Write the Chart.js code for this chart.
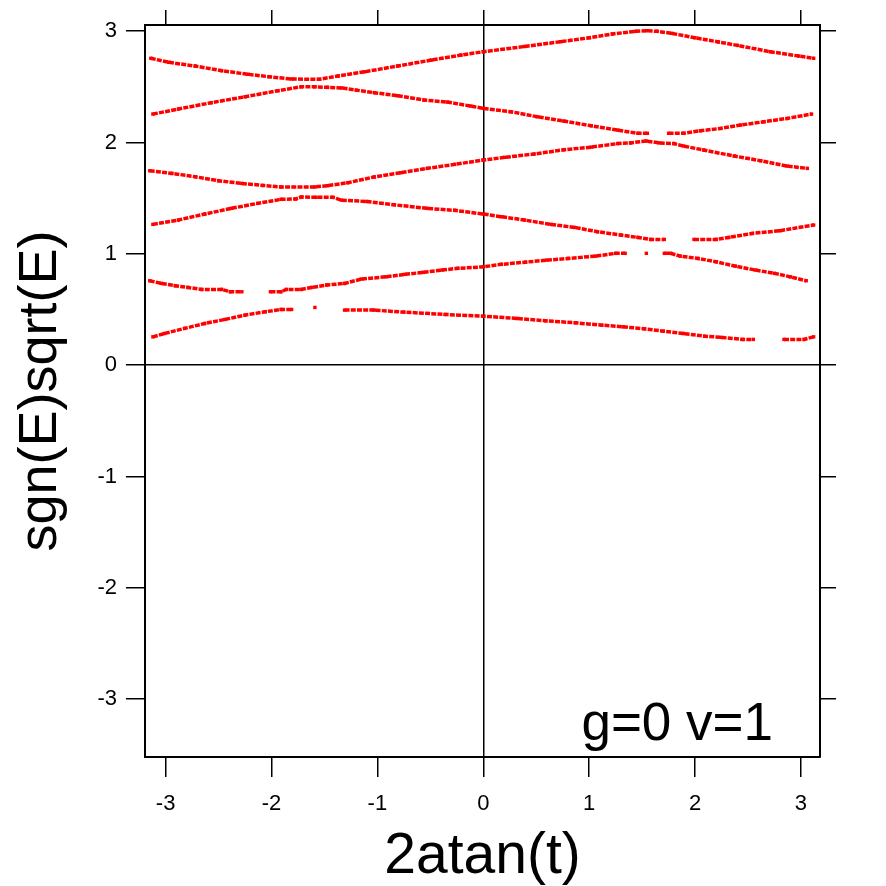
<!DOCTYPE html>
<html>
<head>
<meta charset="utf-8">
<title>sgn(E)sqrt(E) vs 2atan(t)</title>
<script src="https://cdn.jsdelivr.net/npm/chart.js@4.4.0/dist/chart.umd.min.js"></script>
<style>
  html, body { margin: 0; padding: 0; background: #fff; }
  #wrap { width: 886px; height: 886px; }
</style>
</head>
<body>
<div id="wrap"><canvas id="chart" width="886" height="886"></canvas></div>
<script>
// Energy bands, [x, y]; null y = gap where no points were found
const bandA = [[-3.14,2.756],[-2.97,2.72],[-2.72,2.686],[-2.47,2.645],[-2.22,2.612],[-2.02,2.59],[-1.81,2.57],
    [-1.55,2.567],[-1.37,2.597],[-1.12,2.635],[-0.81,2.686],[-0.49,2.74],[-0.21,2.785],[0,2.815],[0.39,2.862],
    [0.73,2.905],[1.0,2.94],[1.22,2.975],[1.44,2.998],[1.54,3.004],[1.64,2.998],[1.78,2.98],[2.0,2.94],
    [2.22,2.903],[2.4,2.872],[2.71,2.815],[2.98,2.776],[3.12,2.756]];
const bandB = [[-3.12,2.255],[-2.88,2.30],[-2.57,2.357],[-2.25,2.41],[-1.94,2.465],[-1.72,2.50],[-1.59,2.50],
    [-1.47,2.495],[-1.34,2.49],[-1.2,2.47],[-1.03,2.447],[-0.81,2.42],[-0.56,2.381],[-0.34,2.363],[-0.12,2.327],
    [0,2.306],[0.26,2.276],[0.51,2.231],[0.76,2.192],[1.02,2.15],[1.27,2.111],[1.46,2.082],[1.55,2.082],
    [1.65,null],[1.75,2.082],[1.89,2.082],[2.05,2.105],[2.24,2.126],[2.43,2.156],[2.65,2.186],[2.87,2.216],
    [3.10,2.255]];
const bandC = [[-3.15,1.746],[-2.94,1.722],[-2.72,1.692],[-2.50,1.656],[-2.28,1.632],[-2.08,1.614],[-1.91,1.60],
    [-1.59,1.60],[-1.47,1.612],[-1.28,1.638],[-1.03,1.69],[-0.78,1.728],[-0.53,1.767],[-0.27,1.803],[0,1.842],
    [0.2,1.866],[0.48,1.896],[0.76,1.934],[1.02,1.958],[1.27,1.99],[1.39,1.996],[1.54,2.013],[1.66,1.996],
    [1.80,1.99],[1.89,1.968],[2.08,1.932],[2.37,1.878],[2.62,1.836],[2.87,1.788],[3.06,1.767]];
const bandD = [[-3.12,1.264],[-2.88,1.303],[-2.63,1.357],[-2.38,1.408],[-2.13,1.453],[-1.91,1.489],[-1.77,1.492],
    [-1.72,1.51],[-1.58,1.507],[-1.42,1.507],[-1.34,1.482],[-1.1,1.47],[-0.84,1.44],[-0.53,1.408],[-0.27,1.39],
    [0,1.357],[0.17,1.333],[0.39,1.303],[0.64,1.264],[0.86,1.237],[1.08,1.198],[1.30,1.168],[1.46,1.147],
    [1.58,1.129],[1.71,1.129],[1.85,null],[1.99,1.129],[2.2,1.129],[2.32,1.147],[2.54,1.183],[2.8,1.207],
    [3.12,1.258]];
const bandE = [[-3.15,0.758],[-3.04,0.734],[-2.91,0.713],[-2.79,0.698],[-2.66,0.68],[-2.47,0.68],[-2.39,0.659],
    [-2.28,0.659],[-2.15,null],[-2.01,0.659],[-1.91,0.659],[-1.86,0.68],[-1.72,0.68],[-1.62,0.698],[-1.48,0.719],
    [-1.31,0.734],[-1.15,0.773],[-0.92,0.793],[-0.74,0.815],[-0.57,0.833],[-0.39,0.854],[-0.24,0.869],[0,0.883],
    [0.17,0.905],[0.4,0.925],[0.6,0.943],[0.8,0.958],[1.06,0.979],[1.25,1.004],[1.34,1.004],[1.44,null],
    [1.54,1.004],[1.62,null],[1.71,1.004],[1.77,1.004],[1.86,0.979],[2.03,0.958],[2.2,0.928],[2.38,0.889],
    [2.57,0.854],[2.75,0.824],[2.9,0.793],[3.05,0.758]];
const bandF = [[-3.12,0.254],[-3.01,0.284],[-2.82,0.33],[-2.63,0.374],[-2.44,0.41],[-2.25,0.449],[-2.06,0.479],
    [-1.91,0.50],[-1.81,0.50],[-1.7,null],[-1.59,0.518],[-1.45,null],[-1.31,0.494],[-1.03,0.494],[-0.75,0.476],
    [-0.36,0.455],[0,0.44],[0.32,0.419],[0.59,0.398],[0.87,0.38],[1.12,0.359],[1.32,0.344],[1.52,0.326],
    [1.7,0.305],[1.89,0.284],[2.09,0.26],[2.25,0.249],[2.45,0.231],[2.55,0.231],[2.7,null],[2.84,0.231],
    [3.03,0.231],[3.12,0.254]];

const bands = [bandA, bandB, bandC, bandD, bandE, bandF];

// Axes
const xTicks = [-3, -2, -1, 0, 1, 2, 3];
const yTicks = [-3, -2, -1, 0, 1, 2, 3];
const xMin = -3.195, xMax = 3.18;
const yMin = -3.52, yMax = 3.055;
const xTitle = '2atan(t)';
const yTitle = 'sgn(E)sqrt(E)';
const cornerLabel = 'g=0 v=1';

const fontFamily = '"Liberation Sans", Arial, Helvetica, sans-serif';
Chart.defaults.font.family = fontFamily;
Chart.defaults.color = '#000';

const red = '#ff0000';

function toPoints(band) {
    return band.map(p => ({ x: p[0], y: p[1] }));
}

// Draws the "g=0 v=1" label in the lower right of the plot
const cornerLabelPlugin = {
    id: 'cornerLabel',
    afterDraw(chart) {
        const { ctx, chartArea } = chart;
        ctx.save();
        ctx.font = '53px ' + fontFamily;
        ctx.fillStyle = '#000';
        ctx.textAlign = 'right';
        ctx.textBaseline = 'alphabetic';
        ctx.fillText(cornerLabel, chartArea.right - 47, chartArea.bottom - 17);
        ctx.restore();
    }
};

function setTicks(values) {
    return function(scale) {
        scale.ticks = values.map(v => ({ value: v }));
    };
}

const zeroLine = ctx => (ctx.tick && ctx.tick.value === 0) ? '#000' : 'rgba(0,0,0,0)';
const frame = { display: true, color: '#000', width: 2 };

new Chart(document.getElementById('chart'), {
    type: 'scatter',
    data: {
        datasets: bands.map(b => ({
            data: toPoints(b),
            showLine: true,
            spanGaps: false,
            borderColor: red,
            backgroundColor: red,
            borderWidth: 3.5,
            borderDash: [5, 1.2],
            pointStyle: 'rect',
            pointRadius: 2.4,
            pointBorderWidth: 0,
            pointHoverRadius: 2.4
        }))
    },
    options: {
        responsive: false,
        animation: false,
        devicePixelRatio: 1,
        layout: { padding: { left: 4, right: 50, top: 10, bottom: 0 } },
        plugins: {
            legend: { display: false },
            tooltip: { enabled: false }
        },
        scales: {
            x: {
                type: 'linear',
                position: 'bottom',
                min: xMin,
                max: xMax,
                afterBuildTicks: setTicks(xTicks),
                ticks: { font: { size: 22 }, color: '#000', padding: 13.8, maxRotation: 0 },
                grid: { drawOnChartArea: true, color: zeroLine, tickColor: '#000', tickLength: 20, lineWidth: 1.5 },
                border: frame,
                title: {
                    display: true,
                    text: xTitle,
                    color: '#000',
                    font: { size: 57, lineHeight: 0.9 },
                    padding: { top: 0.7, bottom: 3 }
                }
            },
            xTop: {
                type: 'linear',
                position: 'top',
                min: xMin,
                max: xMax,
                afterBuildTicks: setTicks(xTicks),
                ticks: { display: false },
                grid: { drawOnChartArea: false, tickColor: '#000', tickLength: 15, lineWidth: 1.5 },
                border: frame
            },
            y: {
                type: 'linear',
                position: 'left',
                min: yMin,
                max: yMax,
                afterBuildTicks: setTicks(yTicks),
                ticks: { font: { size: 22 }, color: '#000', padding: 9 },
                grid: { drawOnChartArea: true, color: zeroLine, tickColor: '#000', tickLength: 19, lineWidth: 1.5 },
                border: frame,
                title: {
                    display: true,
                    text: yTitle,
                    color: '#000',
                    font: { size: 54, lineHeight: 1.0 },
                    padding: { top: 10, bottom: 20.4 }
                }
            },
            yRight: {
                type: 'linear',
                position: 'right',
                min: yMin,
                max: yMax,
                afterBuildTicks: setTicks(yTicks),
                ticks: { display: false },
                grid: { drawOnChartArea: false, tickColor: '#000', tickLength: 16, lineWidth: 1.5 },
                border: frame
            }
        }
    },
    plugins: [cornerLabelPlugin]
});
</script>
</body>
</html>
